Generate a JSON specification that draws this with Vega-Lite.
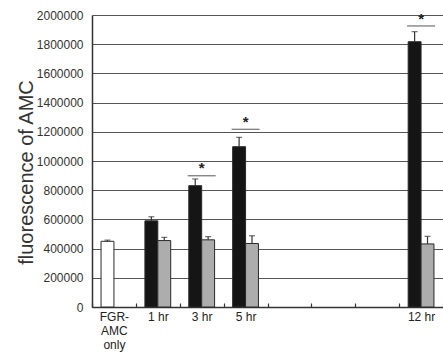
{
  "$schema": "https://vega.github.io/schema/vega-lite/v6.json",
  "width": 351,
  "height": 292,
  "autosize": {"type": "none"},
  "padding": {"left": 92, "top": 15, "right": 0, "bottom": 52},
  "background": "white",
  "config": {"view": {"stroke": null}, "font": "Liberation Sans"},
  "datasets": {
    "bars": [
      {"time": "FGR-AMC only", "series": "a", "type": "FGR-AMC only", "mean": 450000, "upper": 458000},
      {"time": "1 hr", "series": "a", "type": "treated", "mean": 590000, "upper": 618000},
      {"time": "1 hr", "series": "b", "type": "control", "mean": 455000, "upper": 477000},
      {"time": "3 hr", "series": "a", "type": "treated", "mean": 831000, "upper": 877000},
      {"time": "3 hr", "series": "b", "type": "control", "mean": 460000, "upper": 482000},
      {"time": "5 hr", "series": "a", "type": "treated", "mean": 1098000, "upper": 1162000},
      {"time": "5 hr", "series": "b", "type": "control", "mean": 435000, "upper": 488000},
      {"time": "12 hr", "series": "a", "type": "treated", "mean": 1817000, "upper": 1886000},
      {"time": "12 hr", "series": "b", "type": "control", "mean": 432000, "upper": 484000}
    ],
    "sig": [
      {"time": "3 hr", "line": 899000, "star": 959000},
      {"time": "5 hr", "line": 1217000, "star": 1274000},
      {"time": "12 hr", "line": 1925000, "star": 1977000}
    ]
  },
  "encoding": {
    "x": {
      "field": "time",
      "type": "nominal",
      "scale": {"domain": ["FGR-AMC only", "1 hr", "3 hr", "5 hr", " ", "  ", "   ", "12 hr"], "paddingInner": 0, "paddingOuter": 0},
      "axis": {
        "title": null,
        "labelAngle": 0,
        "tickBand": "extent",
        "tickSize": -4,
        "tickColor": "#333",
        "tickWidth": 1.2,
        "domainColor": "#333",
        "domainWidth": 1.5,
        "labelFontSize": 12,
        "labelColor": "#222",
        "labelBaseline": "top",
        "labelPadding": 8,
        "labelLineHeight": 14,
        "labelOverlap": false,
        "grid": false,
        "labelExpr": "datum.value == 'FGR-AMC only' ? ['FGR-', 'AMC', 'only'] : datum.value"
      }
    }
  },
  "layer": [
    {
      "data": {"name": "bars"},
      "mark": {"type": "bar", "stroke": "#2a2a2a", "strokeWidth": 1},
      "encoding": {
        "xOffset": {"field": "series", "type": "nominal", "scale": {"domain": ["a", "b"], "paddingInner": 0, "paddingOuter": 0.7}},
        "y": {
          "field": "mean",
          "type": "quantitative",
          "scale": {"domain": [0, 2000000], "nice": false},
          "axis": {
            "values": [0, 200000, 400000, 600000, 800000, 1000000, 1200000, 1400000, 1600000, 1800000, 2000000],
            "tickCount": 20,
            "format": "d",
            "ticks": false,
            "labelPadding": 9,
            "labelFontSize": 12,
            "labelColor": "#333",
            "labelOverlap": false,
            "grid": true,
            "gridColor": "#555",
            "gridWidth": 1.2,
            "domainColor": "#333",
            "domainWidth": 1.5,
            "title": "fluorescence of AMC",
            "titleFontSize": 20,
            "titleFontWeight": "normal",
            "titleColor": "#333",
            "titleX": -66,
            "titleY": 157,
            "titleAlign": "center",
            "titleBaseline": "middle",
            "titleAngle": -90
          }
        },
        "color": {
          "field": "type",
          "type": "nominal",
          "scale": {"domain": ["FGR-AMC only", "treated", "control"], "range": ["#ffffff", "#151515", "#adadad"]},
          "legend": null
        }
      }
    },
    {
      "data": {"name": "bars"},
      "mark": {"type": "rule", "color": "#333", "strokeWidth": 1.2},
      "encoding": {
        "xOffset": {"field": "series", "type": "nominal"},
        "y": {"field": "mean", "type": "quantitative"},
        "y2": {"field": "upper"}
      }
    },
    {
      "data": {"name": "bars"},
      "mark": {"type": "tick", "color": "#333", "size": 6, "thickness": 1.2},
      "encoding": {
        "xOffset": {"field": "series", "type": "nominal"},
        "y": {"field": "upper", "type": "quantitative"}
      }
    },
    {
      "data": {"name": "sig"},
      "mark": {"type": "tick", "color": "#444", "size": 28, "thickness": 1.3},
      "encoding": {
        "y": {"field": "line", "type": "quantitative"}
      }
    },
    {
      "data": {"name": "sig"},
      "mark": {"type": "text", "text": "*", "fontSize": 15, "fontWeight": "bold", "color": "#222", "baseline": "alphabetic", "dy": 6},
      "encoding": {
        "y": {"field": "star", "type": "quantitative"}
      }
    }
  ]
}
